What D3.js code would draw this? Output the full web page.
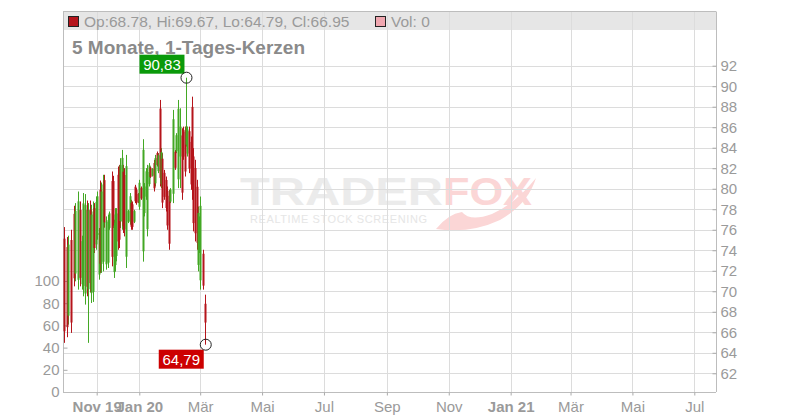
<!DOCTYPE html>
<html><head><meta charset="utf-8">
<script src="https://cdn.jsdelivr.net/npm/d3@7"></script>
<style>
body{margin:0;background:#fff;}
text{font-family:"Liberation Sans",Arial,sans-serif;}
</style></head>
<body><svg id="c" width="800" height="420"></svg>
<script>
const dates = ["2019-10-19","2019-10-22","2019-10-23","2019-10-26","2019-10-29","2019-10-30","2019-11-02","2019-11-04","2019-11-06","2019-11-07","2019-11-08","2019-11-10","2019-11-11","2019-11-13","2019-11-14","2019-11-16","2019-11-17","2019-11-19","2019-11-20","2019-11-22","2019-11-23","2019-11-24","2019-11-26","2019-11-27","2019-11-29","2019-12-01","2019-12-02","2019-12-05","2019-12-06","2019-12-07","2019-12-08","2019-12-09","2019-12-11","2019-12-12","2019-12-13","2019-12-15","2019-12-16","2019-12-17","2019-12-19","2019-12-21","2019-12-23","2019-12-24","2019-12-25","2019-12-27","2019-12-28","2019-12-29","2019-12-31","2020-01-01","2020-01-03","2020-01-05","2020-01-06","2020-01-08","2020-01-09","2020-01-11","2020-01-12","2020-01-14","2020-01-15","2020-01-16","2020-01-18","2020-01-19","2020-01-21","2020-01-22","2020-01-23","2020-01-25","2020-01-27","2020-01-28","2020-01-30","2020-01-31","2020-02-03","2020-02-05","2020-02-06","2020-02-08","2020-02-10","2020-02-12","2020-02-13","2020-02-15","2020-02-16","2020-02-17","2020-02-19","2020-02-21","2020-02-22","2020-02-23","2020-02-25","2020-02-27","2020-02-28","2020-02-29","2020-03-01","2020-03-04","2020-03-06"];
const open  = [75.13,74.31,67.62,75.00,77.55,71.73,71.12,77.93,70.69,70.52,69.78,77.92,70.20,77.95,69.82,69.94,78.11,74.57,75.50,71.63,79.90,72.67,72.88,80.84,72.63,72.79,76.18,80.75,80.75,71.87,72.56,73.44,81.36,81.52,76.85,76.78,81.66,81.34,73.37,76.78,76.80,78.63,78.48,76.78,80.20,79.90,79.48,78.24,80.09,73.90,77.63,79.23,76.05,80.45,82.06,81.27,82.51,80.53,83.48,81.72,87.82,80.45,82.93,81.55,80.85,79.80,79.31,78.75,79.51,83.59,83.67,80.92,83.14,85.20,85.74,85.57,84.30,83.43,85.61,84.57,87.98,83.15,82.02,80.19,72.57,74.09,71.07,73.66,68.78];
const high  = [76.26,75.29,75.42,76.00,78.34,78.60,79.73,78.76,75.42,79.58,79.48,78.85,78.60,78.85,78.44,78.76,78.60,79.24,79.73,76.17,80.80,80.61,81.36,81.36,77.30,77.46,77.78,81.68,81.26,76.98,78.11,78.11,82.17,82.33,82.98,83.79,82.33,82.01,83.30,77.95,79.58,78.92,78.76,77.95,80.38,80.06,79.58,80.87,80.22,84.83,80.55,82.01,82.33,82.50,82.17,82.01,82.82,83.30,83.63,83.47,88.66,83.96,83.47,81.84,81.19,80.22,79.90,80.06,87.69,83.79,85.42,88.66,87.85,85.90,86.06,86.06,90.83,86.06,86.06,85.09,88.98,83.96,82.82,80.87,78.27,77.30,79.24,74.05,69.67];
const low   = [64.97,65.52,66.75,65.94,70.48,70.97,70.16,70.48,70.16,69.51,68.70,69.51,64.97,69.90,68.86,68.96,73.73,74.05,75.03,71.13,71.79,71.79,71.94,76.20,72.11,72.27,76.00,72.43,76.17,71.30,71.94,72.92,74.05,74.22,76.17,76.00,75.68,75.35,72.27,76.65,76.49,76.00,76.00,76.65,78.60,78.44,78.60,77.95,78.92,72.89,77.30,78.92,75.35,80.22,81.04,81.19,79.73,80.22,82.17,81.52,80.22,80.06,78.11,78.92,77.78,76.00,74.05,78.60,78.60,81.84,83.47,80.06,80.06,78.92,82.82,81.19,84.11,83.14,81.52,79.90,78.92,75.84,74.86,74.05,71.94,73.73,70.16,70.16,64.79];
const close = [66.10,66.50,74.55,66.95,71.27,77.84,78.77,71.31,74.89,78.57,78.40,70.44,77.90,70.80,77.48,77.78,74.22,78.72,79.26,75.67,72.69,79.73,80.42,76.72,76.78,76.94,77.60,73.36,76.68,76.41,77.49,77.59,74.86,75.03,82.30,83.01,76.35,76.02,82.20,77.82,79.27,76.29,76.28,77.82,78.78,78.60,78.70,80.58,79.05,83.80,80.22,81.70,81.63,82.27,81.15,81.93,80.04,82.99,82.32,83.27,81.06,83.57,78.65,79.21,78.12,76.42,74.64,79.91,86.78,82.04,85.22,87.80,86.06,79.62,83.14,81.68,86.06,85.77,81.97,80.42,79.92,76.65,75.66,74.73,77.64,76.94,78.33,70.55,66.95];

const priceTicks = [62,64,66,68,70,72,74,76,78,80,82,84,86,88,90,92];
const volTicks = [0,20,40,60,80,100];
const xTickDates = ["2019-11-20","2020-01-01","2020-03-01","2020-05-01","2020-07-01","2020-09-01","2020-11-01","2021-01-01","2021-03-01","2021-05-01","2021-07-01"];
const xTickLabels = ["Nov 19","Jan 20","Mär","Mai","Jul","Sep","Nov","Jan 21","Mär","Mai","Jul"];
const boldLabels = ["Nov 19","Jan 20","Jan 21"];
const lastBar = {op:68.78, hi:69.67, lo:64.79, cl:66.95, vol:0};
const title = "5 Monate, 1-Tages-Kerzen";

const parse = d3.timeParse("%Y-%m-%d");
const data = dates.map((d,i)=>({date:parse(d),o:open[i],h:high[i],l:low[i],c:close[i]}));

const L=63, R=716, T=11.5, B=392;
const svg = d3.select("#c");
const x = d3.scaleTime().domain([parse("2020-01-01"),parse("2021-07-01")]).range([139.3,694.3]);
const y = d3.scaleLinear().domain([62,92]).range([373.3,65.7]);
const yv = d3.scaleLinear().domain([0,100]).range([B,281]);

const GRID="#dcdcdc", AX="#bdbdbd", TXT="#9a9a9a";

// watermark
const wm = svg.append("g");
wm.append("text").attr("x",240).attr("y",205).attr("font-size",38).attr("font-weight","bold")
  .attr("fill","#ebebeb").attr("textLength",203).attr("lengthAdjust","spacingAndGlyphs").text("TRADER");
wm.append("text").attr("x",443).attr("y",205).attr("font-size",38).attr("font-weight","bold")
  .attr("fill","#fbd6d6").attr("textLength",89).attr("lengthAdjust","spacingAndGlyphs").text("FOX");
wm.append("text").attr("x",250).attr("y",223).attr("font-size",11)
  .attr("fill","#e6e6e6").attr("textLength",177).attr("lengthAdjust","spacing").text("REALTIME STOCK SCREENING");
wm.append("path").attr("d","M436,229 Q448,214 462,212 Q470,222 492,214 Q515,204 536,178 Q528,204 500,220 Q470,234 436,229 Z").attr("fill","#fbd6d6");

// header band
svg.append("rect").attr("x",L).attr("y",T).attr("width",R-L).attr("height",30-T).attr("fill","#e6e6e6");

// grid
svg.append("g").selectAll("line").data(priceTicks).join("line")
  .attr("x1",L).attr("x2",R).attr("y1",d=>Math.round(y(d))+0.5).attr("y2",d=>Math.round(y(d))+0.5)
  .attr("stroke",GRID);
svg.append("g").selectAll("line").data(xTickDates).join("line")
  .attr("x1",d=>Math.round(x(parse(d)))+0.5).attr("x2",d=>Math.round(x(parse(d)))+0.5)
  .attr("y1",T).attr("y2",B).attr("stroke",GRID);

// borders
svg.append("line").attr("x1",L).attr("x2",R).attr("y1",T).attr("y2",T).attr("stroke",AX);
svg.append("line").attr("x1",L+0.5).attr("x2",L+0.5).attr("y1",T).attr("y2",B).attr("stroke",AX);
svg.append("line").attr("x1",R+0.5).attr("x2",R+0.5).attr("y1",T).attr("y2",B).attr("stroke",AX);

// axes
const rAx = svg.append("g").attr("transform",`translate(${R+0.5},0)`)
  .call(d3.axisRight(y).tickValues(priceTicks).tickSizeInner(-4).tickSizeOuter(0).tickPadding(4).tickFormat(d3.format("d")));
const lAx = svg.append("g").attr("transform",`translate(${L+0.5},0)`)
  .call(d3.axisLeft(yv).tickValues(volTicks).tickSizeInner(-4).tickSizeOuter(0).tickPadding(4).tickFormat(d3.format("d")));
const bAx = svg.append("g").attr("transform",`translate(0,${B+0.5})`)
  .call(d3.axisBottom(x).tickValues(xTickDates.map(parse)).tickSizeInner(3).tickSizeOuter(0).tickPadding(6)
  .tickFormat((d,i)=>xTickLabels[i]));
[rAx,lAx,bAx].forEach(g=>{
  g.select(".domain").attr("stroke",AX);
  g.selectAll(".tick line").attr("stroke","#aaa");
  g.selectAll(".tick text").attr("fill",TXT).attr("font-size",15).attr("font-family","'Liberation Sans',Arial,sans-serif");
});
lAx.select(".domain").remove();
rAx.select(".domain").remove();
bAx.select(".domain").attr("d",`M${L},0H${R}`);
bAx.selectAll(".tick text").attr("font-weight",(d,i)=>boldLabels.includes(xTickLabels[i])?"bold":"normal");

// candles
const GREEN="#43a824", RED="#b5141b";
const cg = svg.append("g");
cg.selectAll("line").data(data).join("line")
  .attr("x1",d=>Math.round(x(d.date))+0.5).attr("x2",d=>Math.round(x(d.date))+0.5)
  .attr("y1",d=>y(d.h)).attr("y2",d=>y(d.l))
  .attr("stroke",d=>d.c>=d.o?GREEN:RED).attr("stroke-width",1);
cg.selectAll("rect").data(data).join("rect")
  .attr("x",d=>Math.round(x(d.date))-0.5).attr("width",2)
  .attr("y",d=>y(Math.max(d.o,d.c))).attr("height",d=>Math.max(1,Math.abs(y(d.o)-y(d.c))))
  .attr("fill",d=>d.c>=d.o?GREEN:RED);

// max / min markers
const fmt = v=>d3.format(".2f")(v).replace(".",",");
const maxD = data.reduce((a,b)=>b.h>a.h?b:a);
const minD = data.reduce((a,b)=>b.l<a.l?b:a);
function marker(d,val,fill,dx,dy){
  const px=x(d.date)+0.5, py=y(val);
  const g=svg.append("g");
  g.append("rect").attr("x",px-46+dx).attr("y",py+dy).attr("width",45).attr("height",19).attr("fill",fill);
  g.append("text").attr("x",px-23.5+dx).attr("y",py+dy+15).attr("text-anchor","middle")
    .attr("font-size",15).attr("fill","#fff").text(fmt(val));
  g.append("circle").attr("cx",px).attr("cy",py).attr("r",5.5).attr("fill","none").attr("stroke","#222").attr("stroke-width",1);
}

// header
const hdr = svg.append("g");
hdr.append("rect").attr("x",68.5).attr("y",16.5).attr("width",10).attr("height",10).attr("fill","#b5141b").attr("stroke","#222");
hdr.append("text").attr("x",84).attr("y",27).attr("font-size",15.5).attr("fill",TXT)
  .text(`Op:${lastBar.op.toFixed(2)}, Hi:${lastBar.hi.toFixed(2)}, Lo:${lastBar.lo.toFixed(2)}, Cl:${lastBar.cl.toFixed(2)}`);
hdr.append("rect").attr("x",375.5).attr("y",16.5).attr("width",10).attr("height",10).attr("fill","#f0a7b0").attr("stroke","#222");
hdr.append("text").attr("x",391).attr("y",27).attr("font-size",15.5).attr("fill",TXT).text(`Vol: ${lastBar.vol}`);
svg.append("text").attr("x",72).attr("y",54).attr("font-size",19).attr("font-weight","bold").attr("fill","#8a8a8a").text(title);

marker(maxD,maxD.h,"#0a9a0a",-1,-23);
marker(minD,minD.l,"#cc0000",-1,5);
</script></body></html>
